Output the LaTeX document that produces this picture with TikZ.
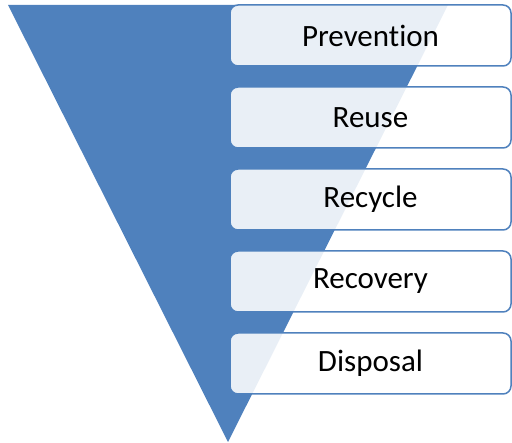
\documentclass[tikz,border=0pt]{standalone}
\usepackage{fontspec}
\setmainfont[Ligatures=NoCommon]{Carlito}
\usepackage{tikz}
\usetikzlibrary{positioning}

\definecolor{funnelblue}{RGB}{79,129,189}

\tikzset{
  level/.style={shape=rectangle,rounded corners=8pt,draw=funnelblue,line width=1.5pt,
    fill=white,fill opacity=0.88,text opacity=1,
    minimum width=281pt,minimum height=61pt,font=\fontsize{31}{36}\selectfont}
}

\begin{document}
\begin{tikzpicture}[x=1pt,y=-1pt]
    \useasboundingbox (0,0) rectangle (512,443);

    % inverted triangle behind the boxes
    \fill[funnelblue] (8,5) -- (448,5) -- (228,442) -- cycle;

    \node[level] (prevention) at (370.5,35.5) {Prevention};
    \node[level,below=19.5pt of prevention] (reuse) {Reuse};
    \node[level,below=19.5pt of reuse] (recycle) {Recycle};
    \node[level,below=19.5pt of recycle] (recovery) {Recovery};
    \node[level,below=19.5pt of recovery] (disposal) {Disposal};
  \end{tikzpicture}
\end{document}
